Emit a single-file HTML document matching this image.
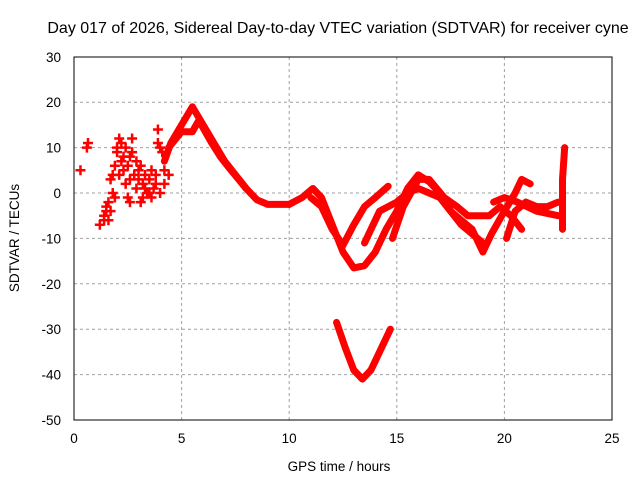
<!DOCTYPE html>
<html><head><meta charset="utf-8"><style>
body{margin:0;background:#fff;}
svg text{font-family:"Liberation Sans",sans-serif;font-size:13.5px;fill:#000;}
</style></head><body>
<svg width="640" height="480">
<g id="grid"></g>
<g id="axes"></g>
<g id="marks"></g>
<text x="338" y="33" text-anchor="middle" style="font-size:16px">Day 017 of 2026, Sidereal Day-to-day VTEC variation (SDTVAR) for receiver cyne</text>
<text x="339" y="471" text-anchor="middle">GPS time / hours</text>
<text transform="translate(19,238) rotate(-90)" text-anchor="middle">SDTVAR / TECUs</text>
</svg>
<script>
const xTicks=[0,5,10,15,20,25];
const yTicks=[30,20,10,0,-10,-20,-30,-40,-50];
const track0=[[4.2,7],[4.5,11],[5,15],[5.5,19],[6,15],[6.5,11],[7,7],[7.5,4],[8,1],[8.5,-1.5],[9,-2.5],[10,-2.5]];
const track0b=[[4.4,10],[5,13.5],[5.5,13.5],[5.8,16],[6.4,11],[6.8,8],[7.3,5],[8,1]];
const track1=[[10,-2.5],[10.6,-1],[11.1,1],[11.5,-1],[12,-7],[12.5,-13],[13,-16.5],[13.5,-16],[14,-13],[14.5,-8],[15,-4],[15.5,1],[16,4],[16.5,2.5],[17,0],[17.5,-4],[18,-6],[18.5,-8],[18.8,-11],[19,-13],[19.4,-9],[20,-4],[20.5,0],[20.8,3],[21.2,2]];
const track2=[[11,-1],[11.5,-3],[12,-8],[12.5,-11.5],[13,-7],[13.5,-3],[14,-1],[14.6,1.5]];
const track3=[[13.5,-11],[14.2,-4],[15,-2],[15.5,0],[16,1],[16.5,0],[17,-1],[17.5,-4],[18,-7],[18.5,-9],[19,-11]];
const track4=[[14.8,-10],[15.3,-3],[16,3],[16.5,3],[17.2,-1],[17.8,-3],[18.3,-5],[19.3,-5],[19.8,-3],[20.3,-5],[20.8,-8]];
const track5=[[19.5,-2],[20,-1],[20.6,-2],[21.5,-4],[22.5,-5]];
const track6=[[20.1,-10],[20.5,-4],[21,-2],[21.5,-3],[22,-3],[22.5,-2]];
const track7=[[12.2,-28.5],[12.6,-34],[13,-39],[13.4,-41],[13.8,-39],[14.2,-35],[14.7,-30]];
const track8=[[22.7,-8],[22.7,-3],[22.7,3],[22.8,10]];
const scatter=[[0.3,5],[0.6,10],[0.65,11],[1.2,-7],[1.4,-5],[1.5,-3],[1.6,-6],[1.7,3],[1.8,0],[1.9,6],[2,9],[2.1,12],[2.2,11],[2.3,5],[2.4,2],[2.5,-1],[2.6,8],[2.7,12],[2.8,4],[2.9,1],[3,3],[3.1,6],[3.2,2],[3.3,4],[3.4,0],[3.5,3],[3.6,5],[3.7,1],[3.8,2],[3.9,14],[4,10],[4.1,9],[2.3,8],[2.6,-2],[1.9,-1],[3.2,-1],[2.9,7],[2.1,4],[1.5,-4],[4.2,2],[4.4,4],[3.6,-1],[1.6,-2],[1.7,-4],[2,10],[2.2,7],[2.4,10],[2.5,6],[2.7,9],[3,5],[3.3,1],[3.5,0],[3.8,4],[4,0],[4.2,5],[1.8,4],[2.6,3],[3.1,-2],[3.9,11],[1.4,-6]];
const X=h=>74+h*21.52, Y=v=>193-v*4.54;
const NS="http://www.w3.org/2000/svg";
const g=document.getElementById('grid'),ax=document.getElementById('axes'),mk=document.getElementById('marks');
function el(t,a,p){const e=document.createElementNS(NS,t);for(const k in a)e.setAttribute(k,a[k]);p.appendChild(e);return e;}
xTicks.forEach(t=>{
 if(t>0&&t<25){const l=el('line',{x1:X(t),x2:X(t),y1:57,y2:420,stroke:'#a0a0a0','stroke-dasharray':'3,3'},g);
 
 }
 const tx=el('text',{x:X(t),y:443,'text-anchor':'middle'},ax);tx.textContent=t;
 
 
});
yTicks.forEach(t=>{
 if(t<30&&t>-50){const l=el('line',{x1:74,x2:612,y1:Y(t),y2:Y(t),stroke:'#a0a0a0','stroke-dasharray':'3,3'},g);
 
 }
 const tx=el('text',{x:61,y:Y(t)+5,'text-anchor':'end'},ax);tx.textContent=t;
 
 
});
const box=el('rect',{x:74,y:57,width:538,height:363,fill:'none',stroke:'#000'},ax);


[track0,track0b,track1,track2,track3,track4,track5,track6,track7,track8].forEach(tr=>{
 const p=el('polyline',{points:tr.map(d=>X(d[0])+','+Y(d[1])).join(' '),fill:'none',stroke:'#f00','stroke-width':7,'stroke-linejoin':'round','stroke-linecap':'round'},mk);
 
 
});
scatter.forEach(d=>{
 const x=X(d[0]),y=Y(d[1]);
 const p=el('path',{d:`M${x-5},${y}H${x+5}M${x},${y-5}V${y+5}`,stroke:'#f00','stroke-width':2.5},mk);
 
 
});
</script>
</body></html>
